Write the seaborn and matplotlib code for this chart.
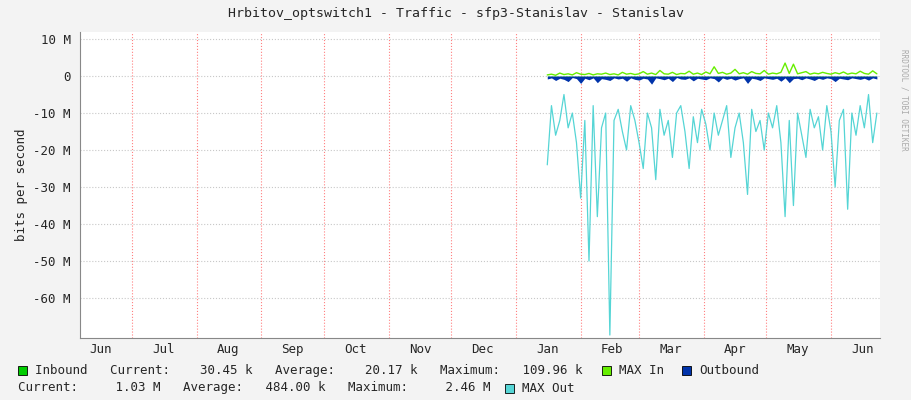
import matplotlib
matplotlib.use("Agg")
import matplotlib.pyplot as plt
from matplotlib.patches import Rectangle
import seaborn as sns
import numpy as np
import pandas as pd

# x = days since Jun 1 of the first year
month_labels = ["Jun", "Jul", "Aug", "Sep", "Oct", "Nov", "Dec", "Jan", "Feb", "Mar", "Apr", "May", "Jun"]
month_starts = [0, 30, 61, 92, 122, 153, 183, 214, 245, 273, 304, 334, 365]

days = list(range(229, 389, 2))  # 80 samples, every 2 days

# values in M bits/s
max_out = [-24, -8, -16, -12, -5, -14, -10, -18, -33, -12, -50, -8, -38, -14, -10, -70, -12, -9,
           -15, -20, -8, -12, -18, -25, -10, -14, -28, -9, -16, -12, -22, -10, -8, -15, -25, -11,
           -18, -9, -13, -20, -10, -16, -12, -8, -22, -14, -10, -18, -32, -9, -15, -12, -20, -10,
           -14, -8, -18, -38, -12, -35, -10, -16, -22, -9, -14, -11, -20, -8, -15, -30, -12, -9,
           -36, -10, -16, -8, -14, -5, -18, -10]
outbound = [-0.8, -0.5, -1.2, -0.6, -0.9, -1.5, -0.4, -0.7, -2.0, -0.6, -1.0, -0.5, -1.8, -0.7,
            -0.9, -1.2, -0.5, -0.8, -0.6, -1.4, -0.5, -0.9, -1.1, -0.6, -0.8, -2.2, -0.5, -0.7,
            -1.0, -0.6, -1.5, -0.4, -0.8, -0.9, -0.5, -1.3, -0.6, -0.8, -1.0, -0.5, -0.7, -1.6,
            -0.5, -0.9, -0.6, -1.1, -0.7, -0.5, -2.0, -0.6, -0.8, -1.2, -0.5, -0.7, -0.9, -0.6,
            -1.4, -0.5, -1.8, -0.7, -0.6, -1.0, -0.5, -0.8, -1.2, -0.6, -0.9, -0.5, -0.7, -1.5,
            -0.6, -0.8, -1.0, -0.5, -0.7, -0.9, -0.6, -1.1, -0.5, -0.8]
max_in = [0.3, 0.5, 0.2, 0.8, 0.4, 0.6, 0.3, 0.9, 0.5, 0.4, 0.7, 0.3, 0.6, 0.5, 0.8, 0.4, 0.6,
          0.3, 1.0, 0.5, 0.7, 0.4, 0.6, 1.2, 0.5, 0.8, 0.4, 1.5, 0.6, 0.5, 1.0, 0.4, 0.7, 0.6,
          1.3, 0.5, 0.8, 0.4, 1.1, 0.6, 2.5, 0.7, 1.0, 0.5, 0.8, 1.8, 0.6, 0.9, 0.5, 1.2, 0.7,
          0.6, 1.5, 0.5, 0.8, 0.6, 1.0, 3.5, 0.7, 3.2, 0.6, 0.9, 1.2, 0.5, 0.8, 0.6, 1.0, 0.7,
          0.5, 0.9, 0.6, 1.1, 0.5, 0.8, 0.6, 1.3, 0.7, 0.5, 1.4, 0.6]
inbound = [0.05, 0.04, 0.06, 0.03, 0.05, 0.07, 0.04, 0.05, 0.06, 0.03, 0.05, 0.04, 0.06, 0.05,
           0.04, 0.07, 0.05, 0.03, 0.06, 0.04, 0.05, 0.06, 0.03, 0.05, 0.04, 0.07, 0.05, 0.04,
           0.06, 0.03, 0.05, 0.04, 0.06, 0.05, 0.04, 0.07, 0.05, 0.03, 0.06, 0.04, 0.05, 0.06,
           0.03, 0.05, 0.04, 0.07, 0.05, 0.04, 0.06, 0.03, 0.05, 0.04, 0.06, 0.05, 0.04, 0.07,
           0.05, 0.03, 0.06, 0.04, 0.05, 0.06, 0.03, 0.05, 0.04, 0.07, 0.05, 0.04, 0.06, 0.03,
           0.05, 0.04, 0.06, 0.05, 0.04, 0.07, 0.05, 0.03, 0.06, 0.04]

df = pd.DataFrame({"day": days, "max_out": max_out, "outbound": outbound,
                   "max_in": max_in, "inbound": inbound})

sns.set_style("white")
plt.rcParams["font.family"] = ["DejaVu Sans Mono"]
fig = plt.figure(figsize=(9.11, 4.0), dpi=100, facecolor="#F3F3F3")
ax = fig.add_axes([80 / 911, 62 / 400, 800 / 911, 306 / 400])
ax.set_facecolor("white")

c_in, c_maxin, c_out, c_maxout = "#00CC00", "#66EE00", "#0033AA", "#55D5D5"
ax.fill_between(df["day"], df["max_out"], 0, color=c_maxout, lw=0, alpha=0.0)
sns.lineplot(data=df, x="day", y="max_out", color=c_maxout, lw=0.9, ax=ax)
ax.fill_between(df["day"], df["outbound"], 0, color=c_out, lw=0)
sns.lineplot(data=df, x="day", y="max_in", color=c_maxin, lw=1.0, ax=ax)
ax.fill_between(df["day"], df["inbound"], 0, color=c_in, lw=0)

ax.set_xlim(5, 388.5)
ax.set_ylim(-70.8, 11.9)
ax.set_xticks(month_starts[1:])
ax.set_xticklabels([])
ax.set_xticks([s + 15 for s in month_starts], minor=True)
ax.set_xticklabels(month_labels, minor=True, fontsize=9)
ax.tick_params(axis="x", which="minor", length=0)
ax.tick_params(axis="x", which="major", length=3)
ax.set_yticks([10, 0, -10, -20, -30, -40, -50, -60])
ax.set_yticklabels(["10 M", "0", "-10 M", "-20 M", "-30 M", "-40 M", "-50 M", "-60 M"], fontsize=9)
ax.tick_params(axis="y", length=3)
ax.grid(axis="x", which="major", color="#FF8080", ls=":", lw=0.8)
ax.grid(axis="y", color="#C8C8C8", ls=":", lw=0.8)
ax.set_xlabel("")
ax.set_ylabel("bits per second", fontsize=9)
for s in ["top", "right"]:
    ax.spines[s].set_visible(False)
ax.spines["left"].set_color("#888888")
ax.spines["bottom"].set_color("#888888")

fig.text(0.5, 0.965, "Hrbitov_optswitch1 - Traffic - sfp3-Stanislav - Stanislav",
         ha="center", va="center", fontsize=9.5)
fig.text(0.992, 0.75, "RRDTOOL / TOBI OETIKER", rotation=270, ha="center", va="center",
         fontsize=5.5, color="#AAAAAA")

def box(x, y, col):
    fig.patches.append(Rectangle((x / 911, y / 400), 9 / 911, 9 / 400, transform=fig.transFigure,
                                 facecolor=col, edgecolor="black", lw=0.6))

box(18, 25, c_in)
fig.text(35 / 911, 29.5 / 400, "Inbound   Current:    30.45 k   Average:    20.17 k   Maximum:   109.96 k",
         fontsize=9, va="center")
box(602, 25, c_maxin)
fig.text(619 / 911, 29.5 / 400, "MAX In", fontsize=9, va="center")
box(682, 25, c_out)
fig.text(699 / 911, 29.5 / 400, "Outbound", fontsize=9, va="center")
fig.text(18 / 911, 12 / 400, "Current:     1.03 M   Average:   484.00 k   Maximum:     2.46 M",
         fontsize=9, va="center")
box(505, 7.5, c_maxout)
fig.text(522 / 911, 12 / 400, "MAX Out", fontsize=9, va="center")

fig.savefig("out.png", dpi=100, facecolor=fig.get_facecolor())
